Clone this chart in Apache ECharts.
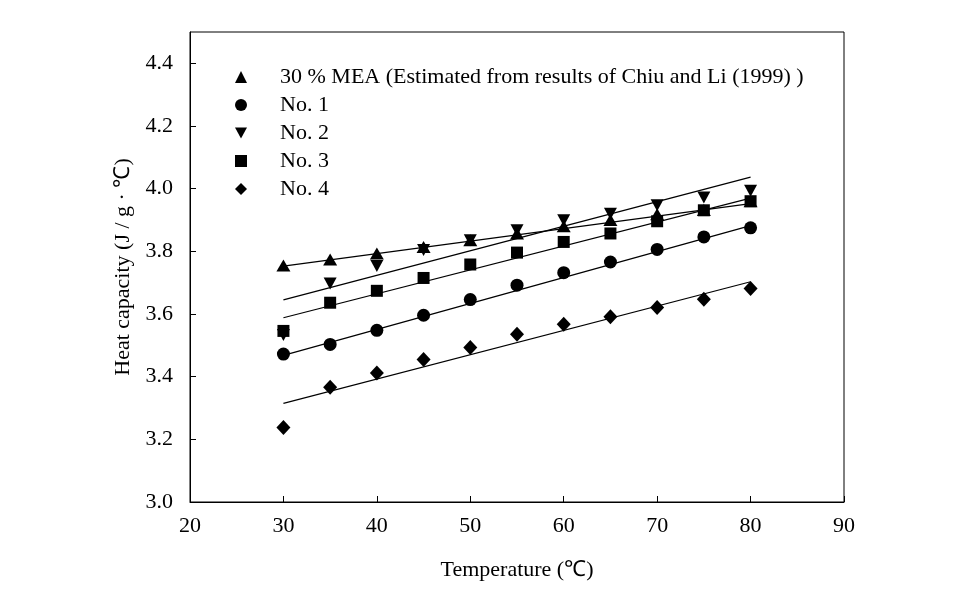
<!DOCTYPE html>
<html>
<head>
<meta charset="utf-8">
<script src="https://cdn.jsdelivr.net/npm/echarts@6/dist/echarts.min.js"></script>
<style>html,body{margin:0;padding:0;background:#fff;}#c{width:966px;height:593px;}</style>
</head>
<body>
<div id="c"></div>
<script>
const temps = [30, 35, 40, 45, 50, 55, 60, 65, 70, 75, 80];
const seriesNames = ['30 % MEA (Estimated from results of Chiu and Li (1999) )', 'No. 1', 'No. 2', 'No. 3', 'No. 4'];
const mea  = [3.755, 3.774, 3.793, 3.814, 3.835, 3.857, 3.880, 3.900, 3.918, 3.932, 3.960];
const no1  = [3.472, 3.503, 3.548, 3.596, 3.646, 3.692, 3.732, 3.766, 3.806, 3.846, 3.875];
const no2  = [3.533, 3.697, 3.753, 3.804, 3.835, 3.867, 3.899, 3.920, 3.947, 3.972, 3.993];
const no3  = [3.546, 3.636, 3.674, 3.715, 3.758, 3.796, 3.830, 3.857, 3.896, 3.931, 3.960];
const no4  = [3.238, 3.366, 3.412, 3.455, 3.493, 3.535, 3.567, 3.591, 3.621, 3.647, 3.681];
// fitted line end values at x = 30 and x = 80
const fitX = [30, 80];
const fitMea = [3.753, 3.952];
const fitNo1 = [3.468, 3.882];
const fitNo2 = [3.645, 4.037];
const fitNo3 = [3.588, 3.970];
const fitNo4 = [3.315, 3.703];
const xTicks = {min: 20, max: 90, interval: 10};
const yTicks = {min: 3.0, max: 4.5, interval: 0.2};

const font = 'Liberation Serif';
const fs = 22;
const downTri = 'path://M0,0 L12,0 L6,11 Z';
const symbols = ['triangle', 'circle', downTri, 'rect', 'diamond'];
const sizes = [[14, 12], 13, [13, 12], 12, [14, 15]];
const pts = [mea, no1, no2, no3, no4];
const fits = [fitMea, fitNo1, fitNo2, fitNo3, fitNo4];

const series = [];
fits.forEach((f, i) => {
  series.push({
    type: 'line', name: 'fit' + i, silent: true, symbol: 'none',
    data: fitX.map((x, j) => [x, f[j]]),
    lineStyle: {color: '#000', width: 1.2}, z: 2
  });
});
pts.forEach((p, i) => {
  series.push({
    type: 'scatter', name: seriesNames[i], symbol: symbols[i], symbolSize: sizes[i],
    data: temps.map((t, j) => [t, p[j]]),
    itemStyle: {color: '#000', opacity: 1}, z: 3
  });
});

const chart = echarts.init(document.getElementById('c'), null, {renderer: 'canvas'});
chart.setOption({
  animation: false,
  backgroundColor: '#fff',
  textStyle: {fontFamily: font, color: '#000'},
  grid: {left: 190, right: 122, top: 32, bottom: 91, show: true, borderColor: '#000', borderWidth: 1},
  legend: {
    orient: 'vertical', left: 230, top: 61, itemGap: 6, itemWidth: 12, itemHeight: 12,
    data: seriesNames.map((n, i) => ({name: n, icon: symbols[i], itemStyle: {color: '#000'}})),
    textStyle: {fontFamily: font, fontSize: fs, color: '#000', lineHeight: 22, padding: [0, 0, 0, 28]},
    selectedMode: false
  },
  xAxis: {
    type: 'value', min: xTicks.min, max: xTicks.max, interval: xTicks.interval,
    name: 'Temperature (℃)', nameLocation: 'middle', nameGap: 57,
    nameTextStyle: {fontFamily: font, fontSize: fs, color: '#000'},
    axisLine: {lineStyle: {color: '#000', width: 1}},
    axisTick: {inside: true, length: 6, lineStyle: {color: '#000'}},
    axisLabel: {fontFamily: font, fontSize: fs, color: '#000', margin: 13},
    splitLine: {show: false}
  },
  yAxis: {
    type: 'value', min: yTicks.min, max: yTicks.max, interval: yTicks.interval,
    name: 'Heat capacity (J / g · ℃)', nameLocation: 'middle', nameGap: 54,
    nameTextStyle: {fontFamily: font, fontSize: fs, color: '#000'},
    axisLine: {lineStyle: {color: '#000', width: 1}},
    axisTick: {inside: true, length: 6, lineStyle: {color: '#000'}},
    axisLabel: {fontFamily: font, fontSize: fs, color: '#000', margin: 17, showMaxLabel: false,
      formatter: v => v.toFixed(1)},
    splitLine: {show: false}
  },
  series: series
});
</script>
</body>
</html>
